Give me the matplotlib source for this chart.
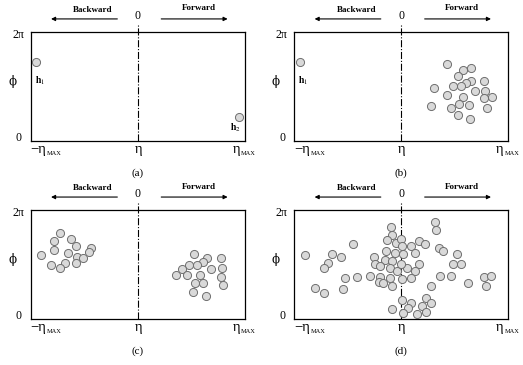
import numpy as np
from matplotlib import pyplot as plt

# eta in [-1, 1] (units of eta_MAX), phi as a fraction of 2*pi
a_eta = [-0.95, 0.947]
a_phi = [0.726, 0.22]

b_eta = [-0.95, 0.432, 0.576, 0.654, 0.532, 0.651, 0.607, 0.557, 0.488, 0.775, 0.307, 0.688,
         0.787, 0.426, 0.581, 0.775, 0.850, 0.538, 0.632, 0.279, 0.466, 0.800, 0.529, 0.644]
b_phi = [0.726, 0.707, 0.652, 0.673, 0.600, 0.554, 0.531, 0.506, 0.506, 0.554, 0.485, 0.460,
         0.463, 0.424, 0.403, 0.393, 0.408, 0.339, 0.332, 0.323, 0.305, 0.307, 0.241, 0.207]

c_eta = [-0.723, -0.782, -0.620, -0.574, -0.434, -0.782, -0.906, -0.651, -0.564, -0.511,
         -0.458, -0.813, -0.682, -0.579, -0.729,
         0.524, 0.648, 0.776, 0.605, 0.480, 0.549, 0.683, 0.783, 0.410, 0.356, 0.462, 0.580,
         0.773, 0.536, 0.611, 0.792, 0.518, 0.636]
c_phi = [0.793, 0.717, 0.733, 0.672, 0.656, 0.635, 0.590, 0.605, 0.574, 0.565, 0.614, 0.499,
         0.520, 0.520, 0.474,
         0.599, 0.560, 0.560, 0.529, 0.499, 0.499, 0.462, 0.469, 0.462, 0.407, 0.407, 0.407,
         0.392, 0.337, 0.337, 0.310, 0.246, 0.210]

d_eta = [-0.900, -0.651, -0.567, -0.450, -0.683, -0.726, -0.254, -0.244, -0.095, -0.091,
         -0.129, -0.049, -0.138, -0.054, -0.154, -0.082, -0.101, -0.039, -0.294, -0.201,
         -0.210, -0.170, -0.101, -0.089, -0.415, -0.524, -0.543, -0.807, -0.720, -0.086, -0.201,
         0.319, 0.322, 0.002, 0.163, 0.219, 0.095, 0.011, 0.350, 0.390, 0.132, 0.017, 0.524,
         0.483, 0.555, 0.163, 0.058, -0.005, 0.129, 0.362, 0.462, 0.089, 0.011, 0.770, 0.841,
         0.623, 0.795, 0.275, 0.011, 0.095, 0.235, 0.282, 0.194, 0.063, 0.017, 0.147, 0.229]
d_phi = [0.589, 0.601, 0.567, 0.690, 0.518, 0.472, 0.571, 0.509, 0.847, 0.773,
         0.727, 0.703, 0.626, 0.610, 0.546, 0.534, 0.472, 0.442, 0.401, 0.387,
         0.343, 0.334, 0.374, 0.307, 0.390, 0.374, 0.282, 0.288, 0.242, 0.098, 0.488,
         0.893, 0.822, 0.739, 0.718, 0.687, 0.672, 0.672, 0.650, 0.626, 0.604, 0.595, 0.601,
         0.503, 0.503, 0.503, 0.472, 0.503, 0.442, 0.401, 0.401, 0.374, 0.365, 0.390, 0.401,
         0.334, 0.304, 0.304, 0.180, 0.150, 0.196, 0.150, 0.120, 0.104, 0.058, 0.049, 0.067]

# (eta, phi, text) for the labelled hadrons
a_tags = [(-0.908, 0.552, r'$\mathbf{h}_1$'), (0.907, 0.119, r'$\mathbf{h}_2$')]
b_tags = [(-0.922, 0.554, r'$\mathbf{h}_1$')]

plt.rcParams['font.family'] = ['Liberation Serif', 'DejaVu Serif']
plt.rcParams['mathtext.fontset'] = 'stix'


def eta_label(ax, x, main, ha):
    tr = ax.get_xaxis_transform()
    t = ax.text(x, -0.107, main, transform=tr, ha=ha, va='baseline', fontsize=10.5)
    ax.annotate('MAX', xy=(1, 0), xycoords=t, xytext=(0.4, 0.3), textcoords='offset points',
                ha='left', va='bottom', fontsize=4.6)


def draw_panel(ax, eta, phi, tags, letter):
    ax.set_xlim(-1, 1)
    ax.set_ylim(0, 1)
    ax.set_xticks([])
    ax.set_yticks([])
    for s in ax.spines.values():
        s.set_linewidth(0.9)
    ax.scatter(eta, phi, s=34, facecolor='#d9d9d9', edgecolor='#6e6e6e',
               linewidth=0.7, zorder=3, clip_on=False)
    ax.plot([0, 0], [0, 1.07], color='black', lw=0.8, ls='-.', clip_on=False)
    for x, y, t in tags:
        ax.text(x, y, t, fontsize=7, ha='center', va='center')

    ax.text(-0.041, 0.033, '0', transform=ax.transAxes, ha='right', va='center', fontsize=8.5)
    ax.text(-0.031, 0.971, '2π', transform=ax.transAxes, ha='right', va='center', fontsize=8.5)
    ax.text(-0.087, 0.545, 'ϕ', transform=ax.transAxes, ha='center', va='center', fontsize=8.5,
            family=['DejaVu Serif'])

    tr = ax.get_xaxis_transform()
    eta_label(ax, -1.0, '−η', 'left')
    ax.text(0.005, -0.107, 'η', transform=tr, ha='center', va='baseline', fontsize=10.5)
    eta_label(ax, 0.888, 'η', 'left')
    ax.text(0, -0.293, letter, transform=tr, ha='center', va='center', fontsize=8)

    ax.text(0, 1.146, '0', transform=tr, ha='center', va='center', fontsize=8.5)
    ax.text(-0.42, 1.205, 'Backward', transform=tr, ha='center', va='center',
            fontsize=6.5, fontweight='bold')
    ax.text(0.571, 1.215, 'Forward', transform=tr, ha='center', va='center',
            fontsize=6.5, fontweight='bold')
    ax.annotate('', xy=(-0.81, 1.119), xytext=(-0.191, 1.119), xycoords=tr,
                arrowprops=dict(arrowstyle='-|>', color='black', lw=0.8,
                                mutation_scale=6, shrinkA=0, shrinkB=0))
    ax.annotate('', xy=(0.839, 1.119), xytext=(0.219, 1.119), xycoords=tr,
                arrowprops=dict(arrowstyle='-|>', color='black', lw=0.8,
                                mutation_scale=6, shrinkA=0, shrinkB=0))


fig = plt.figure(figsize=(5.23, 3.65), dpi=100)
ax_a = fig.add_axes([0.0587, 0.613, 0.4095, 0.2995])
ax_b = fig.add_axes([0.5627, 0.613, 0.4090, 0.2995])
ax_c = fig.add_axes([0.0587, 0.125, 0.4095, 0.2995])
ax_d = fig.add_axes([0.5627, 0.125, 0.4090, 0.2995])

draw_panel(ax_a, a_eta, a_phi, a_tags, '(a)')
draw_panel(ax_b, b_eta, b_phi, b_tags, '(b)')
draw_panel(ax_c, c_eta, c_phi, [], '(c)')
draw_panel(ax_d, d_eta, d_phi, [], '(d)')

fig.savefig('out.png', dpi=100)
